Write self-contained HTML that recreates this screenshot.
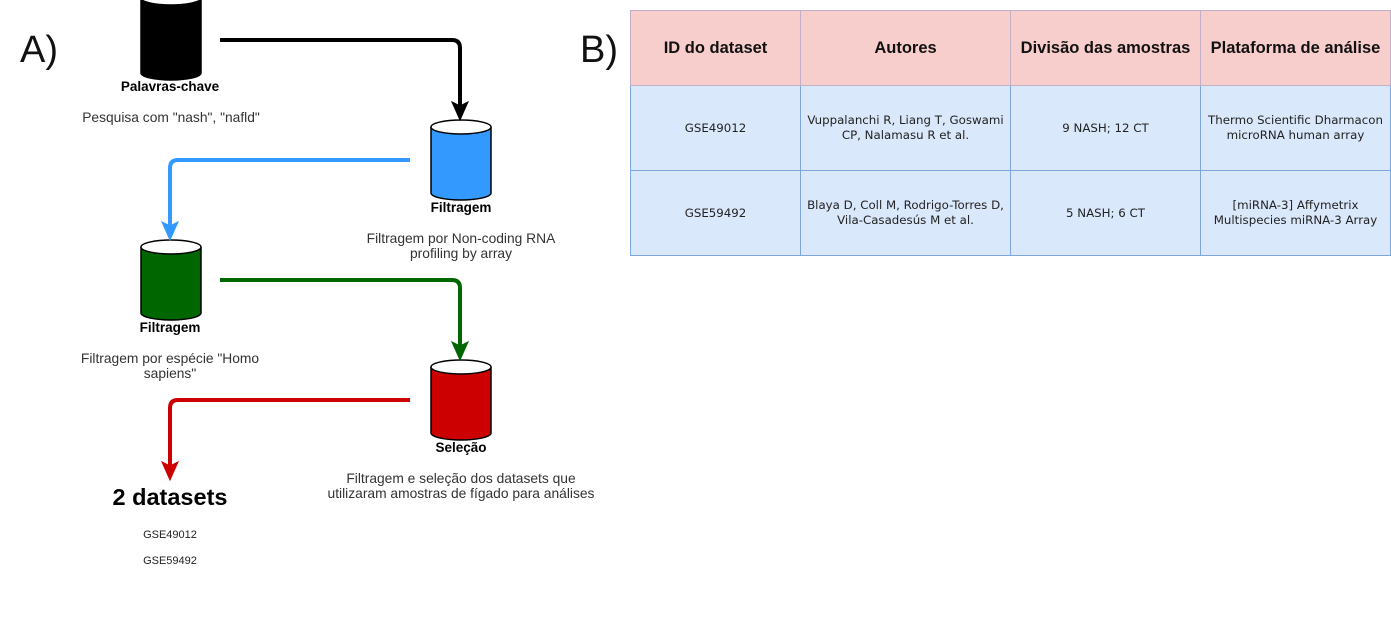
<!DOCTYPE html>
<html><head><meta charset="utf-8"><style>
body{margin:0;background:#fff;width:1391px;height:628px;overflow:hidden;font-family:"Liberation Sans",sans-serif}
svg{position:absolute;left:0;top:0}
table{position:absolute;left:630px;top:10px;border-collapse:collapse;font-family:"DejaVu Sans","Liberation Sans",sans-serif}
td{border:1px solid #7ea6e0;text-align:center;vertical-align:middle;font-size:11.8px;color:#222;background:#dae8fc;padding:0;line-height:15px}
th{border:1px solid #c3b0c8;background:#f8cecc;font-family:"Liberation Sans",sans-serif;font-size:16.5px;font-weight:bold;color:#111;height:74px;padding:0;white-space:nowrap}
</style></head><body>
<svg width="1391" height="628" font-family="Liberation Sans, sans-serif">
<text x="20" y="62" font-size="38" fill="#111">A)</text>
<text x="580" y="62" font-size="38" fill="#111">B)</text>
<g stroke="#000" stroke-width="1.5">
<path d="M141,-2 V73 A30,7 0 0 0 201,73 V-2" fill="#000"/>
<ellipse cx="171" cy="-2" rx="30" ry="7" fill="#fff"/>
<path d="M431,127 V193 A30,7 0 0 0 491,193 V127" fill="#3399ff"/>
<ellipse cx="461" cy="127" rx="30" ry="7" fill="#fff"/>
<path d="M141,247 V313 A30,7 0 0 0 201,313 V247" fill="#006600"/>
<ellipse cx="171" cy="247" rx="30" ry="7" fill="#fff"/>
<path d="M431,367 V433 A30,7 0 0 0 491,433 V367" fill="#cc0000"/>
<ellipse cx="461" cy="367" rx="30" ry="7" fill="#fff"/>
</g>
<g fill="none" stroke-width="4">
<path d="M220,40 H452 Q460,40 460,48 V112" stroke="#000"/>
<path d="M410,160 H178 Q170,160 170,168 V232" stroke="#3399ff"/>
<path d="M220,280 H452 Q460,280 460,288 V352" stroke="#006600"/>
<path d="M410,400 H178 Q170,400 170,408 V472" stroke="#cc0000"/>
</g>
<path d="M452,102 L460,120 L468,102 L460,106Z" fill="#000" stroke="#000" stroke-width="1"/>
<path d="M162,222 L170,240 L178,222 L170,226Z" fill="#3399ff" stroke="#3399ff" stroke-width="1"/>
<path d="M452,342 L460,360 L468,342 L460,346Z" fill="#006600" stroke="#006600" stroke-width="1"/>
<path d="M162,462 L170,480 L178,462 L170,466Z" fill="#cc0000" stroke="#cc0000" stroke-width="1"/>
<g font-size="13.5" font-weight="bold" text-anchor="middle" fill="#000">
<text x="170" y="91">Palavras-chave</text>
<text x="461" y="212">Filtragem</text>
<text x="170" y="332">Filtragem</text>
<text x="461" y="452">Seleção</text>
</g>
<g font-size="13.8" fill="#333" text-anchor="middle">
<text x="171" y="122">Pesquisa com "nash", "nafld"</text>
<text x="461" y="243">Filtragem por Non-coding RNA</text>
<text x="461" y="258">profiling by array</text>
<text x="170" y="363">Filtragem por espécie "Homo</text>
<text x="170" y="378">sapiens"</text>
<text x="461" y="483">Filtragem e seleção dos datasets que</text>
<text x="461" y="498">utilizaram amostras de fígado para análises</text>
</g>
<text x="170" y="505" font-size="23.5" font-weight="bold" text-anchor="middle" fill="#000">2 datasets</text>
<text x="170" y="538" font-size="11" text-anchor="middle" fill="#222">GSE49012</text>
<text x="170" y="564" font-size="11" text-anchor="middle" fill="#222">GSE59492</text>
</svg>
<table>
<tr><th style="width:169px">ID do dataset</th><th style="width:209px">Autores</th><th style="width:189px">Divisão das amostras</th><th style="width:189px">Plataforma de análise</th></tr>
<tr style="height:85px"><td>GSE49012</td><td>Vuppalanchi R, Liang T, Goswami<br>CP, Nalamasu R et al.</td><td>9 NASH; 12 CT</td><td>Thermo Scientific Dharmacon<br>microRNA human array</td></tr>
<tr style="height:85px"><td>GSE59492</td><td>Blaya D, Coll M, Rodrigo-Torres D,<br>Vila-Casadesús M et al.</td><td>5 NASH; 6 CT</td><td>[miRNA-3] Affymetrix<br>Multispecies miRNA-3 Array</td></tr>
</table>
</body></html>
